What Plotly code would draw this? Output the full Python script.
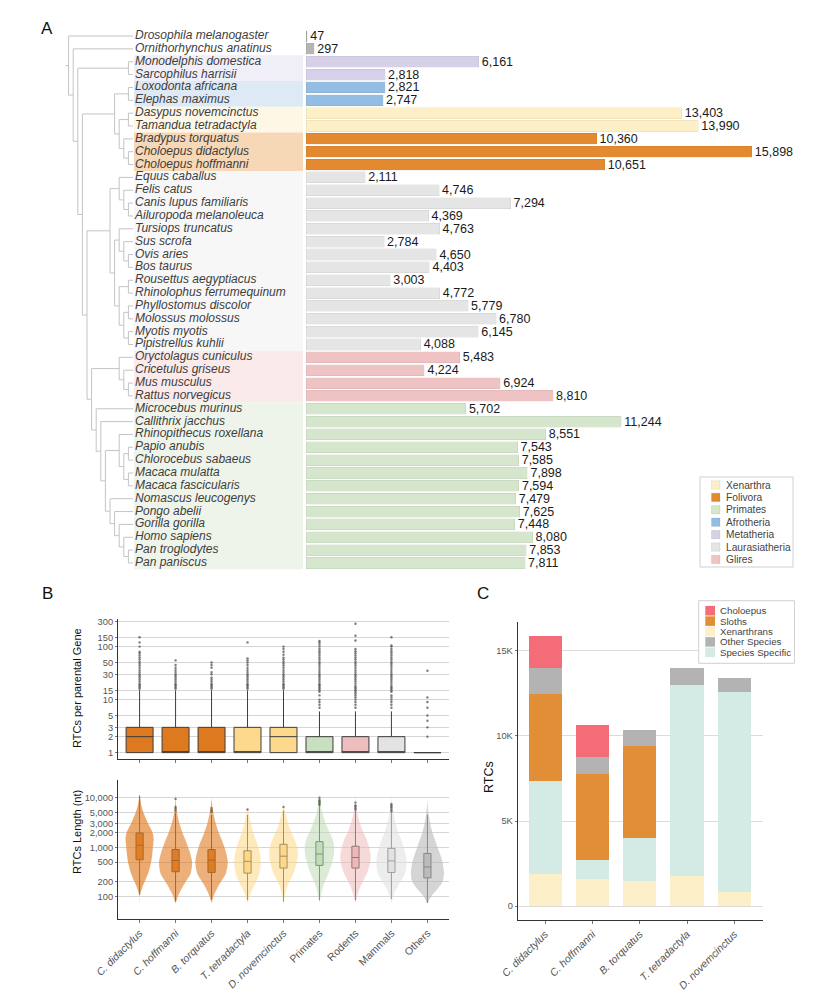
import plotly.graph_objects as go

W, H = 832, 1000
FONT = "Liberation Sans, Arial, sans-serif"


def px(x):
    return x / W


def py(y):
    return 1 - y / H


# ---------------- Panel A data ----------------
species = [
    "Drosophila melanogaster", "Ornithorhynchus anatinus", "Monodelphis domestica", "Sarcophilus harrisii",
    "Loxodonta africana", "Elephas maximus", "Dasypus novemcinctus", "Tamandua tetradactyla",
    "Bradypus torquatus", "Choloepus didactylus", "Choloepus hoffmanni", "Equus caballus", "Felis catus",
    "Canis lupus familiaris", "Ailuropoda melanoleuca", "Tursiops truncatus", "Sus scrofa", "Ovis aries",
    "Bos taurus", "Rousettus aegyptiacus", "Rhinolophus ferrumequinum", "Phyllostomus discolor",
    "Molossus molossus", "Myotis myotis", "Pipistrellus kuhlii", "Oryctolagus cuniculus", "Cricetulus griseus",
    "Mus musculus", "Rattus norvegicus", "Microcebus murinus", "Callithrix jacchus", "Rhinopithecus roxellana",
    "Papio anubis", "Chlorocebus sabaeus", "Macaca mulatta", "Macaca fascicularis", "Nomascus leucogenys",
    "Pongo abelii", "Gorilla gorilla", "Homo sapiens", "Pan troglodytes", "Pan paniscus"]
rtc_counts = [47, 297, 6161, 2818, 2821, 2747, 13403, 13990, 10360, 15898, 10651, 2111, 4746, 7294, 4369,
              4763, 2784, 4650, 4403, 3003, 4772, 5779, 6780, 6145, 4088, 5483, 4224, 6924, 8810, 5702,
              11244, 8551, 7543, 7585, 7898, 7594, 7479, 7625, 7448, 8080, 7853, 7811]
species_clade = (["Insecta", "Monotremata", "Metatheria", "Metatheria", "Afrotheria", "Afrotheria",
                  "Xenarthra", "Xenarthra", "Folivora", "Folivora", "Folivora"]
                 + ["Laurasiatheria"] * 14 + ["Glires"] * 4 + ["Primates"] * 13)
legend_clades = ["Xenarthra", "Folivora", "Primates", "Afrotheria", "Metatheria", "Laurasiatheria", "Glires"]

bar_color = {"Insecta": "#a8a8a8", "Monotremata": "#b5b5b5", "Metatheria": "#d6d1e8",
             "Afrotheria": "#93bde3", "Xenarthra": "#fdf0c6", "Folivora": "#e38a30",
             "Laurasiatheria": "#e5e5e5", "Glires": "#efc3c3", "Primates": "#d5e6cd"}
band_color = {"Metatheria": "#f0eef7", "Afrotheria": "#dde9f5", "Xenarthra": "#fef7e6",
              "Folivora": "#f6d7b6", "Laurasiatheria": "#f7f7f7", "Glires": "#fbeaea",
              "Primates": "#eef4ea"}

metatheria = ["Monodelphis domestica", "Sarcophilus harrisii"]
afrotheria = ["Loxodonta africana", "Elephas maximus"]
xenarthra = [["Dasypus novemcinctus", "Tamandua tetradactyla"],
             ["Bradypus torquatus", ["Choloepus didactylus", "Choloepus hoffmanni"]]]
laurasia = [["Equus caballus", ["Felis catus", ["Canis lupus familiaris", "Ailuropoda melanoleuca"]]],
            [["Tursiops truncatus", ["Sus scrofa", ["Ovis aries", "Bos taurus"]]],
             [["Rousettus aegyptiacus", "Rhinolophus ferrumequinum"],
              [["Phyllostomus discolor", "Molossus molossus"], ["Myotis myotis", "Pipistrellus kuhlii"]]]]]
glires = ["Oryctolagus cuniculus", ["Cricetulus griseus", ["Mus musculus", "Rattus norvegicus"]]]
primates = ["Microcebus murinus", ["Callithrix jacchus",
            [["Rhinopithecus roxellana", [["Papio anubis", "Chlorocebus sabaeus"],
                                          ["Macaca mulatta", "Macaca fascicularis"]]],
             ["Nomascus leucogenys", ["Pongo abelii", ["Gorilla gorilla",
                                                       ["Homo sapiens", ["Pan troglodytes", "Pan paniscus"]]]]]]]]
tree = ["Drosophila melanogaster",
        ["Ornithorhynchus anatinus", [metatheria, [[afrotheria, xenarthra], [laurasia, [glires, primates]]]]]]

# ---------------- Panel B data ----------------
b_groups = ["C. didactylus", "C. hoffmanni", "B. torquatus", "T. tetradactyla", "D. novemcinctus",
            "Primates", "Rodents", "Mammals", "Others"]
b_italic = [True, True, True, True, True, False, False, False, False]
b_fill = ["#dd7a1f", "#dd7a1f", "#dd7a1f", "#fcd98c", "#fcd98c", "#c9e0bf", "#eebdbd", "#e3e3e3", "#bfbfbf"]
b_violin_fill = ["rgba(226,128,40,0.68)", "rgba(226,128,40,0.62)", "rgba(226,128,40,0.62)",
                 "rgba(253,215,130,0.55)", "rgba(253,215,130,0.55)", "rgba(190,218,178,0.55)",
                 "rgba(238,180,180,0.5)", "rgba(225,225,225,0.6)", "rgba(185,185,185,0.6)"]

# RTCs per parental gene (box stats + outliers)
box_q1 = [1, 1, 1, 1, 1, 1, 1, 1, 1]
box_median = [2, 1, 1, 1, 2, 1, 1, 1, 1]
box_q3 = [3, 3, 3, 3, 3, 2, 2, 2, 1]
box_lower = [1, 1, 1, 1, 1, 1, 1, 1, 1]
box_upper = [15, 15, 15, 15, 15, 6, 6, 6, 1]
box_outliers = [
    [16, 17, 18, 19, 20, 22, 24, 26, 28, 30, 33, 36, 40, 44, 48, 52, 57, 62, 68, 75, 80, 100, 120, 150],
    [16, 17, 18, 19, 20, 22, 24, 26, 28, 30, 33, 36, 40, 45, 55],
    [16, 17, 18, 19, 20, 22, 24, 26, 30, 33, 40, 45, 50],
    [16, 17, 18, 19, 20, 22, 24, 26, 28, 30, 33, 36, 40, 45, 50, 55, 60, 120],
    [16, 17, 18, 19, 20, 22, 24, 26, 28, 30, 33, 36, 40, 44, 48, 52, 57, 62, 70, 80, 90, 100],
    [7, 8, 9, 10, 12, 14, 15, 16, 17, 18, 19, 20, 22, 24, 26, 28, 30, 33, 36, 40, 44, 48, 52, 57, 62,
     68, 75, 82, 90, 100, 110, 120, 127],
    [7, 8, 9, 10, 11, 12, 13, 14, 15, 16, 17, 18, 20, 22, 24, 26, 28, 30, 33, 36, 40, 44, 48, 52, 57,
     62, 68, 75, 82, 90, 130, 160, 270],
    [7, 8, 9, 10, 11, 12, 14, 15, 16, 17, 18, 20, 22, 24, 26, 28, 30, 33, 36, 40, 44, 48, 52, 57, 62,
     68, 75, 82, 90, 100, 105, 150],
    [2, 3, 4, 5, 7, 9, 11, 35]]
box_ticks = [1, 2, 3, 5, 10, 15, 30, 50, 100, 150, 300]
box_ticktext = ["1", "2", "3", "5", "10", "15", "30", "50", "100", "150", "300"]

# RTC length (nt): violin density profile (half-widths) + box stats
violin_levels = [75, 100, 150, 200, 300, 500, 700, 1000, 1500, 2000, 3000, 5000, 7000, 10000, 12000]
violin_halfwidth = [
    [0.0, 0.0, 0.07, 0.14, 0.24, 0.32, 0.35, 0.37, 0.39, 0.36, 0.24, 0.11, 0.05, 0.015, 0.0],
    [0.0, 0.06, 0.18, 0.28, 0.42, 0.46, 0.42, 0.35, 0.26, 0.19, 0.11, 0.04, 0.015, 0.005, 0.0],
    [0.0, 0.05, 0.16, 0.26, 0.40, 0.45, 0.42, 0.36, 0.27, 0.20, 0.12, 0.05, 0.02, 0.0, 0.0],
    [0.0, 0.05, 0.15, 0.24, 0.33, 0.37, 0.35, 0.30, 0.22, 0.16, 0.09, 0.03, 0.0, 0.0, 0.0],
    [0.0, 0.03, 0.09, 0.16, 0.28, 0.37, 0.40, 0.38, 0.30, 0.22, 0.13, 0.05, 0.01, 0.0, 0.0],
    [0.0, 0.03, 0.09, 0.15, 0.25, 0.35, 0.40, 0.41, 0.36, 0.28, 0.18, 0.08, 0.04, 0.015, 0.0],
    [0.0, 0.04, 0.12, 0.20, 0.32, 0.41, 0.42, 0.38, 0.30, 0.22, 0.13, 0.05, 0.02, 0.005, 0.0],
    [0.0, 0.05, 0.15, 0.25, 0.38, 0.42, 0.40, 0.34, 0.26, 0.19, 0.12, 0.05, 0.02, 0.005, 0.0],
    [0.0, 0.10, 0.30, 0.42, 0.46, 0.42, 0.36, 0.28, 0.20, 0.14, 0.08, 0.03, 0.01, 0.0, 0.0]]
len_q1 = [560, 320, 310, 300, 380, 430, 380, 310, 240]
len_median = [1100, 540, 550, 520, 660, 730, 620, 530, 400]
len_q3 = [1950, 900, 900, 850, 1150, 1300, 1050, 950, 750]
len_lower = [110, 80, 88, 85, 80, 85, 85, 90, 75]
len_upper = [11000, 5000, 4500, 4500, 5500, 7000, 5500, 5000, 4500]
len_outliers = [[], [5500, 6000, 6500, 9500], [5200, 5600, 6200], [5800], [6500],
                [7200, 7600, 8000, 8500, 9000, 10000], [5800, 6200, 6700, 7000, 8000],
                [5300, 5700, 6200, 6600, 7000, 7500], []]
len_ticks = [100, 200, 500, 1000, 2000, 3000, 5000, 10000]
len_ticktext = ["100", "200", "500", "1,000", "2,000", "3,000", "5,000", "10,000"]

# ---------------- Panel C data ----------------
c_species = ["C. didactylus", "C. hoffmanni", "B. torquatus", "T. tetradactyla", "D. novemcinctus"]
c_layers = ["Xenarthrans", "Species Specific", "Sloths", "Other Species", "Choloepus"]
c_values = {
    "Xenarthrans": [1860, 1570, 1490, 1750, 800],
    "Species Specific": [5490, 1140, 2490, 11230, 11810],
    "Sloths": [5140, 5040, 5410, 0, 0],
    "Other Species": [1530, 1000, 960, 1000, 790],
    "Choloepus": [1880, 1900, 0, 0, 0]}
c_colors = {"Choloepus": "#f46c78", "Sloths": "#e28e36", "Xenarthrans": "#fdefc8",
            "Other Species": "#b3b3b3", "Species Specific": "#d4eae5"}
c_legend_order = ["Choloepus", "Sloths", "Xenarthrans", "Other Species", "Species Specific"]
c_ticks = [0, 5000, 10000, 15000]
c_ticktext = ["0", "5K", "10K", "15K"]

fig = go.Figure()
shapes = []
annotations = []

# ================= Panel A =================
LEAF_X = 133.0
STEP = 4.6
row_of = {s: i for i, s in enumerate(species)}
seg_x, seg_y = [], []


def place(node):
    if isinstance(node, str):
        return LEAF_X, row_of[node], 0
    kids = [place(k) for k in node]
    h = max(k[2] for k in kids) + 1
    nx = LEAF_X - h * STEP
    ys = [k[1] for k in kids]
    seg_x.extend([nx, nx, None])
    seg_y.extend([min(ys), max(ys), None])
    for kx, ky, _ in kids:
        seg_x.extend([nx, kx, None])
        seg_y.extend([ky, ky, None])
    return nx, (min(ys) + max(ys)) / 2, h


root_x, root_y, _ = place(tree)
seg_x.extend([root_x - 3, root_x, None])
seg_y.extend([root_y, root_y, None])

# background bands behind labels
i = 0
while i < len(species):
    c = species_clade[i]
    j = i
    while j + 1 < len(species) and species_clade[j + 1] == c:
        j += 1
    if c in band_color:
        shapes.append(dict(type="rect", xref="x", yref="y", x0=134, x1=303, y0=i - 0.5, y1=j + 0.5,
                           fillcolor=band_color[c], line_width=0, layer="below"))
    i = j + 1

fig.add_trace(go.Scatter(x=seg_x, y=seg_y, mode="lines", line=dict(color="#c4c4c4", width=1),
                         xaxis="x", yaxis="y", showlegend=False, hoverinfo="skip"))
fig.add_trace(go.Scatter(x=[LEAF_X + 2] * len(species), y=list(range(len(species))), mode="text",
                         text=["<i>%s</i>" % s for s in species], textposition="middle right",
                         textfont=dict(family=FONT, size=12, color="#3d3d3d"), cliponaxis=False,
                         xaxis="x", yaxis="y", showlegend=False, hoverinfo="skip"))

for c in bar_color:
    rows = [k for k in range(len(species)) if species_clade[k] == c]
    fig.add_trace(go.Bar(orientation="h", x=[rtc_counts[k] for k in rows], y=rows, width=0.86,
                         marker=dict(color=bar_color[c], line=dict(color="rgba(0,0,0,0.08)", width=0.6)),
                         texttemplate="%{x:,}", textposition="outside", constraintext="none",
                         textfont=dict(family=FONT, size=12.5, color="#1a1a1a"), cliponaxis=False,
                         xaxis="x2", yaxis="y", showlegend=False, hoverinfo="skip"))

# legend A (manual)
shapes.append(dict(type="rect", xref="paper", yref="paper", x0=px(700), x1=px(793), y0=py(567), y1=py(477),
                   fillcolor="white", line=dict(color="#d0d0d0", width=1)))
for k, c in enumerate(legend_clades):
    yc = 485 + k * 12.4
    shapes.append(dict(type="rect", xref="paper", yref="paper", x0=px(711.5), x1=px(720), y0=py(yc + 4.2),
                       y1=py(yc - 4.2), fillcolor=bar_color[c], line=dict(color="rgba(0,0,0,0.12)", width=0.6)))
    annotations.append(dict(xref="paper", yref="paper", x=px(724), y=py(yc), text=c, showarrow=False,
                            xanchor="left", yanchor="middle", font=dict(family=FONT, size=10.2, color="#444")))

# ================= Panel B (top: boxes) =================
for k, g in enumerate(b_groups):
    fig.add_trace(go.Box(x=[k], q1=[box_q1[k]], median=[box_median[k]], q3=[box_q3[k]],
                         lowerfence=[box_lower[k]], upperfence=[box_upper[k]], width=0.75,
                         fillcolor=b_fill[k], line=dict(color="#3d3d3d", width=1), whiskerwidth=0,
                         boxpoints=False, xaxis="x3", yaxis="y3", showlegend=False, hoverinfo="skip"))
    fig.add_trace(go.Scatter(x=[k] * len(box_outliers[k]), y=box_outliers[k], mode="markers",
                             marker=dict(size=2.4, color="#505050", opacity=0.75),
                             xaxis="x3", yaxis="y3", showlegend=False, hoverinfo="skip"))

# ================= Panel B (bottom: violins) =================
for k, g in enumerate(b_groups):
    w = violin_halfwidth[k]
    xs = [k - v for v in w] + [k + v for v in reversed(w)]
    ys = violin_levels + list(reversed(violin_levels))
    fig.add_trace(go.Scatter(x=xs, y=ys, mode="lines", fill="toself", fillcolor=b_violin_fill[k],
                             line=dict(width=0, shape="spline", smoothing=0.8),
                             xaxis="x4", yaxis="y4", showlegend=False, hoverinfo="skip"))
for k, g in enumerate(b_groups):
    fig.add_trace(go.Box(x=[k], q1=[len_q1[k]], median=[len_median[k]], q3=[len_q3[k]],
                         lowerfence=[len_lower[k]], upperfence=[len_upper[k]], width=0.2,
                         fillcolor=b_fill[k], line=dict(color="#3a3a3a", width=1), whiskerwidth=0,
                         boxpoints=False, xaxis="x4", yaxis="y4", showlegend=False, hoverinfo="skip"))
    if len_outliers[k]:
        fig.add_trace(go.Scatter(x=[k] * len(len_outliers[k]), y=len_outliers[k], mode="markers",
                                 marker=dict(size=2.4, color="#505050", opacity=0.7),
                                 xaxis="x4", yaxis="y4", showlegend=False, hoverinfo="skip"))

# ================= Panel C =================
for layer in c_layers:
    fig.add_trace(go.Bar(x=list(range(len(c_species))), y=c_values[layer], width=0.7,
                         marker=dict(color=c_colors[layer], line=dict(width=0)),
                         xaxis="x5", yaxis="y5", showlegend=False, hoverinfo="skip"))

shapes.append(dict(type="rect", xref="paper", yref="paper", x0=px(698.7), x1=px(794.5), y0=py(663.3),
                   y1=py(600.7), fillcolor="white", line=dict(color="#d0d0d0", width=1)))
for k, c in enumerate(c_legend_order):
    yc = 610.7 + k * 10.4
    shapes.append(dict(type="rect", xref="paper", yref="paper", x0=px(705.3), x1=px(715), y0=py(yc + 4.8),
                       y1=py(yc - 4.8), fillcolor=c_colors[c], line_width=0))
    annotations.append(dict(xref="paper", yref="paper", x=px(718), y=py(yc), text=c, showarrow=False,
                            xanchor="left", yanchor="middle", font=dict(family=FONT, size=9.7, color="#444")))

# ================= Text =================
for letter, (lx, ly) in {"A": (47, 28), "B": (47, 593), "C": (483, 593)}.items():
    annotations.append(dict(xref="paper", yref="paper", x=px(lx), y=py(ly), text=letter, showarrow=False,
                            xanchor="center", yanchor="middle", font=dict(family=FONT, size=17, color="#111")))
annotations.append(dict(xref="paper", yref="paper", x=px(77), y=py(688), text="RTCs per parental Gene",
                        textangle=-90, showarrow=False, xanchor="center", yanchor="middle",
                        font=dict(family=FONT, size=11, color="#111")))
annotations.append(dict(xref="paper", yref="paper", x=px(77), y=py(832), text="RTCs Length (nt)",
                        textangle=-90, showarrow=False, xanchor="center", yanchor="middle",
                        font=dict(family=FONT, size=11, color="#111")))
annotations.append(dict(xref="paper", yref="paper", x=px(489), y=py(777), text="RTCs",
                        textangle=-90, showarrow=False, xanchor="center", yanchor="middle",
                        font=dict(family=FONT, size=12.5, color="#111")))

ytickfont = dict(family=FONT, size=9.3, color="#555")
xtickfont = dict(family=FONT, size=10.5, color="#555")
b_ticktext = ["<i>%s</i>" % g if it else g for g, it in zip(b_groups, b_italic)]
c_ticktext_x = ["<i>%s</i>" % g for g in c_species]

fig.update_layout(
    width=W, height=H, autosize=False, margin=dict(l=0, r=0, t=0, b=0, autoexpand=False),
    paper_bgcolor="white", plot_bgcolor="white", barmode="stack", boxmode="overlay",
    font=dict(family=FONT), shapes=shapes, annotations=annotations, showlegend=False,
    xaxis=dict(domain=[px(60), px(303)], range=[60, 303], visible=False, anchor="y", automargin=False),
    yaxis=dict(domain=[py(569.4), py(29.6)], range=[41.5, -0.5], visible=False, anchor="x", automargin=False),
    xaxis2=dict(domain=[px(306), px(800)], range=[0, 17617], visible=False, anchor="y", automargin=False),
    xaxis3=dict(domain=[px(118), px(449)], range=[-0.6, 8.6], anchor="y3", showline=True,
                linecolor="#333", linewidth=1, showgrid=False, zeroline=False, ticks="outside",
                ticklen=3, tickcolor="#777", tickvals=list(range(9)), showticklabels=False,
                automargin=False),
    yaxis3=dict(domain=[py(759), py(619)], type="log", range=[-0.12, 2.52], anchor="x3",
                showline=True, linecolor="#333", linewidth=1, showgrid=True, gridcolor="#d6d6d6",
                tickvals=box_ticks, ticktext=box_ticktext, tickfont=ytickfont, ticks="outside",
                ticklen=2, tickcolor="#777", zeroline=False, automargin=False),
    xaxis4=dict(domain=[px(118), px(449)], range=[-0.6, 8.6], anchor="y4", showline=True,
                linecolor="#333", linewidth=1, showgrid=False, zeroline=False, ticks="outside",
                ticklen=3, tickcolor="#777", tickvals=list(range(9)), ticktext=b_ticktext,
                tickangle=-45, tickfont=xtickfont, automargin=False),
    yaxis4=dict(domain=[py(919), py(780)], type="log", range=[1.55, 4.36], anchor="x4",
                showline=True, linecolor="#333", linewidth=1, showgrid=True, gridcolor="#d6d6d6",
                tickvals=len_ticks, ticktext=len_ticktext, tickfont=ytickfont, ticks="outside",
                ticklen=2, tickcolor="#777", zeroline=False, automargin=False),
    xaxis5=dict(domain=[px(517.7), px(762.7)], range=[-0.58, 4.6], anchor="y5", showline=True,
                linecolor="#333", linewidth=1, showgrid=False, zeroline=False, ticks="outside",
                ticklen=3, tickcolor="#777", tickvals=list(range(5)), ticktext=c_ticktext_x,
                tickangle=-45, tickfont=xtickfont, automargin=False),
    yaxis5=dict(domain=[py(920), py(621.7)], range=[-820, 16720], anchor="x5", showline=True,
                linecolor="#333", linewidth=1, showgrid=True, gridcolor="#dcdcdc", zeroline=False,
                tickvals=c_ticks, ticktext=c_ticktext, tickfont=ytickfont, ticks="outside",
                ticklen=2, tickcolor="#777", automargin=False),
)

fig.write_html("out.html", config={"displayModeBar": False},
               post_script="document.body.style.margin='0';")
